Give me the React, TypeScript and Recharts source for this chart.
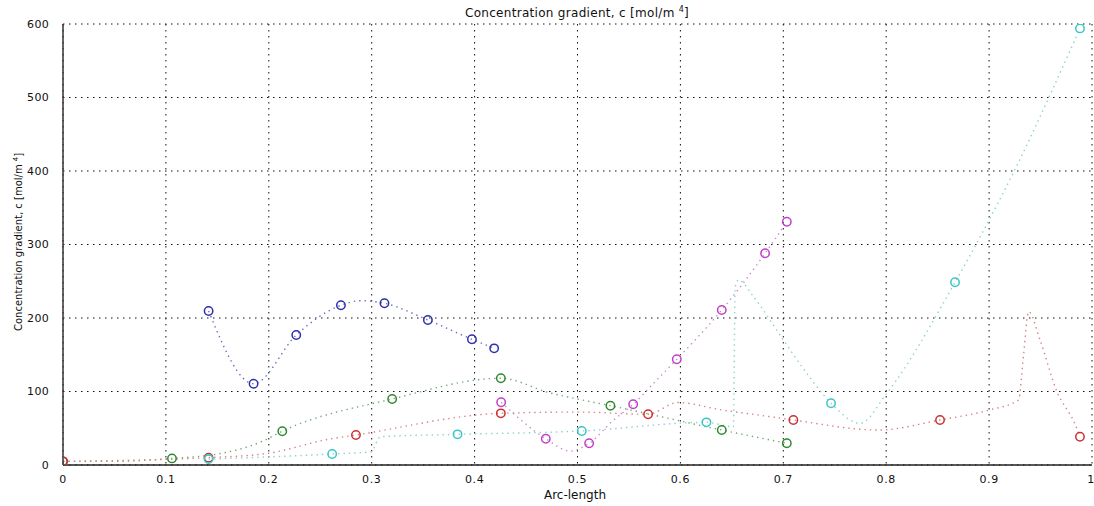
import React from 'react';
import { ComposedChart, Line, Scatter, XAxis, YAxis, CartesianGrid } from 'recharts';

// Marker values (arc-length, concentration gradient)
const blueX = [0.1415, 0.1852, 0.2267, 0.2701, 0.3124, 0.3546, 0.3974, 0.419];
const blueY = [209.5, 110.6, 176.9, 217.3, 220, 197.3, 171, 158.7];
const greenX = [0, 0.1059, 0.2131, 0.3199, 0.4255, 0.532, 0.6402, 0.7034];
const greenY = [5, 9, 46, 89.8, 118, 80.7, 47.6, 29.5];
const redX = [0, 0.1415, 0.2847, 0.4255, 0.5686, 0.7098, 0.8523, 0.9883];
const redY = [5, 10, 40.8, 70.3, 69, 61.2, 61.2, 38.5];
const cyanX = [0.1415, 0.2616, 0.3834, 0.5042, 0.6253, 0.7464, 0.8669, 0.9883];
const cyanY = [8, 15, 41.7, 46.3, 58, 84, 248.6, 594];
const magentaX = [0.4258, 0.4692, 0.5113, 0.5541, 0.5965, 0.6402, 0.6823, 0.7034];
const magentaY = [85.3, 35.8, 29.5, 82.6, 143.8, 210.9, 288, 331];

// Dotted curve values
const blueCurveX = [0.1415, 0.1852, 0.2267, 0.2701, 0.2888, 0.3124, 0.3546, 0.3974, 0.419];
const blueCurveY = [209.5, 110.6, 176.9, 217.3, 223.5, 220, 197.3, 171, 158.7];
const greenCurveX = [0, 0.05, 0.1059, 0.1545, 0.1933, 0.2131, 0.3199, 0.4255, 0.4734, 0.4994, 0.532, 0.6402, 0.7034];
const greenCurveY = [5, 5, 9, 16, 32, 46, 89.8, 118, 98, 90, 80.7, 47.6, 29.5];
const redCurveX = [0, 0.1415, 0.1998, 0.258, 0.2847, 0.4255, 0.5, 0.5686, 0.5975, 0.64, 0.686, 0.7098, 0.792, 0.8523, 0.9, 0.9286, 0.9335, 0.9384, 0.9495, 0.9653, 0.984, 0.9883];
const redCurveY = [5, 10, 16, 35, 40.8, 70.3, 72, 69, 85, 75, 66, 61.2, 47.6, 61.2, 74.8, 88.4, 150, 208.6, 170, 102, 54, 38.5];
const cyanCurveX = [0.1415, 0.2616, 0.2995, 0.3083, 0.3834, 0.5042, 0.6253, 0.6515, 0.6532, 0.6564, 0.671, 0.7001, 0.7228, 0.7464, 0.7746, 0.8005, 0.8669, 0.9233, 0.9883];
const cyanCurveY = [8, 15, 18, 38.5, 41.7, 46.3, 58, 52, 242, 251.7, 229, 170, 124.7, 84, 56.7, 97.5, 248.6, 397, 594];
const magentaCurveX = [0.4258, 0.4692, 0.4929, 0.5113, 0.5349, 0.5541, 0.5738, 0.5965, 0.6402, 0.6823, 0.7034];
const magentaCurveY = [85.3, 35.8, 19, 29.5, 61, 82.6, 111, 143.8, 210.9, 288, 331];

const xTicks = [0, 0.1, 0.2, 0.3, 0.4, 0.5, 0.6, 0.7, 0.8, 0.9, 1];
const yTicks = [0, 100, 200, 300, 400, 500, 600];

const toPts = (xs: number[], ys: number[]) => xs.map((x, i) => ({ x, y: ys[i] }));

const series = [
  { name: 'blue', marker: '#2e2eb0', curve: '#6b6bbf', pts: toPts(blueX, blueY), cur: toPts(blueCurveX, blueCurveY) },
  { name: 'green', marker: '#2f8a2f', curve: '#79a979', pts: toPts(greenX, greenY), cur: toPts(greenCurveX, greenCurveY) },
  { name: 'red', marker: '#cc3030', curve: '#d98080', pts: toPts(redX, redY), cur: toPts(redCurveX, redCurveY) },
  { name: 'cyan', marker: '#3cc6c6', curve: '#8dcfcf', pts: toPts(cyanX, cyanY), cur: toPts(cyanCurveX, cyanCurveY) },
  { name: 'magenta', marker: '#c040c8', curve: '#c98ccd', pts: toPts(magentaX, magentaY), cur: toPts(magentaCurveX, magentaCurveY) },
];

const fmtX = (v: number) => (v === 0 ? '0' : v === 1 ? '1' : v.toFixed(1));

const font = '"DejaVu Sans", Verdana, sans-serif';

export default function App() {
  return (
    <div style={{ position: 'absolute', left: 0, top: 0, width: 1094, height: 506, background: '#fff' }}>
      <ComposedChart width={1094} height={506} margin={{ top: 24, right: 2, bottom: 0, left: 0 }}>
        <CartesianGrid stroke="#111" strokeDasharray="1.5 4.5" strokeWidth={1} />
        <XAxis
          xAxisId={0}
          dataKey="x"
          type="number"
          domain={[0, 1]}
          ticks={xTicks}
          tickFormatter={fmtX}
          allowDataOverflow
          height={41}
          tickLine={false}
          tickMargin={4}
          axisLine={{ stroke: '#222', strokeWidth: 1.5 }}
          tick={{ fontSize: 11, fill: '#111', fontFamily: font, letterSpacing: 0.6 }}
        />
        <XAxis
          xAxisId="top"
          orientation="top"
          dataKey="x"
          type="number"
          domain={[0, 1]}
          ticks={xTicks}
          tick={false}
          tickLine={false}
          height={0}
          axisLine={{ stroke: '#555', strokeWidth: 1 }}
        />
        <YAxis
          yAxisId={0}
          type="number"
          domain={[0, 600]}
          ticks={yTicks}
          allowDataOverflow
          width={63}
          tickLine={false}
          tickMargin={8}
          axisLine={{ stroke: '#333', strokeWidth: 1.5 }}
          tick={{ fontSize: 11, fill: '#111', fontFamily: font, letterSpacing: 0.3 }}
        />
        <YAxis
          yAxisId="right"
          orientation="right"
          type="number"
          domain={[0, 600]}
          ticks={yTicks}
          tick={false}
          tickLine={false}
          width={0}
          axisLine={{ stroke: '#666', strokeWidth: 1 }}
        />
        {series.map((s) => (
          <Line
            key={'c' + s.name}
            data={s.cur}
            dataKey="y"
            type="monotone"
            stroke={s.curve}
            strokeWidth={1.4}
            strokeDasharray="1.4 4"
            dot={false}
            activeDot={false}
            isAnimationActive={false}
          />
        ))}
        {series.map((s) => (
          <Scatter
            key={'m' + s.name}
            data={s.pts}
            dataKey="y"
            isAnimationActive={false}
            shape={(p: any) => (
              <circle cx={p.cx} cy={p.cy} r={4.2} fill="none" stroke={s.marker} strokeWidth={1.5} />
            )}
          />
        ))}
        <text x={577} y={17} textAnchor="middle" fontFamily={font} fontSize={12} letterSpacing={0.3} fill="#111">
          Concentration gradient, c [mol/m
          <tspan dx={4} dy={-5} fontSize={8}>4</tspan>
          <tspan dy={5}>]</tspan>
        </text>
        <text x={575} y={499} textAnchor="middle" fontFamily={font} fontSize={12} fill="#111">
          Arc-length
        </text>
        <text
          x={22}
          y={242}
          textAnchor="middle"
          fontFamily={font}
          fontSize={10}
          fill="#111"
          transform="rotate(-90 22 242)"
        >
          Concentration gradient, c [mol/m
          <tspan dx={3} dy={-4} fontSize={7}>4</tspan>
          <tspan dy={4}>]</tspan>
        </text>
      </ComposedChart>
    </div>
  );
}
